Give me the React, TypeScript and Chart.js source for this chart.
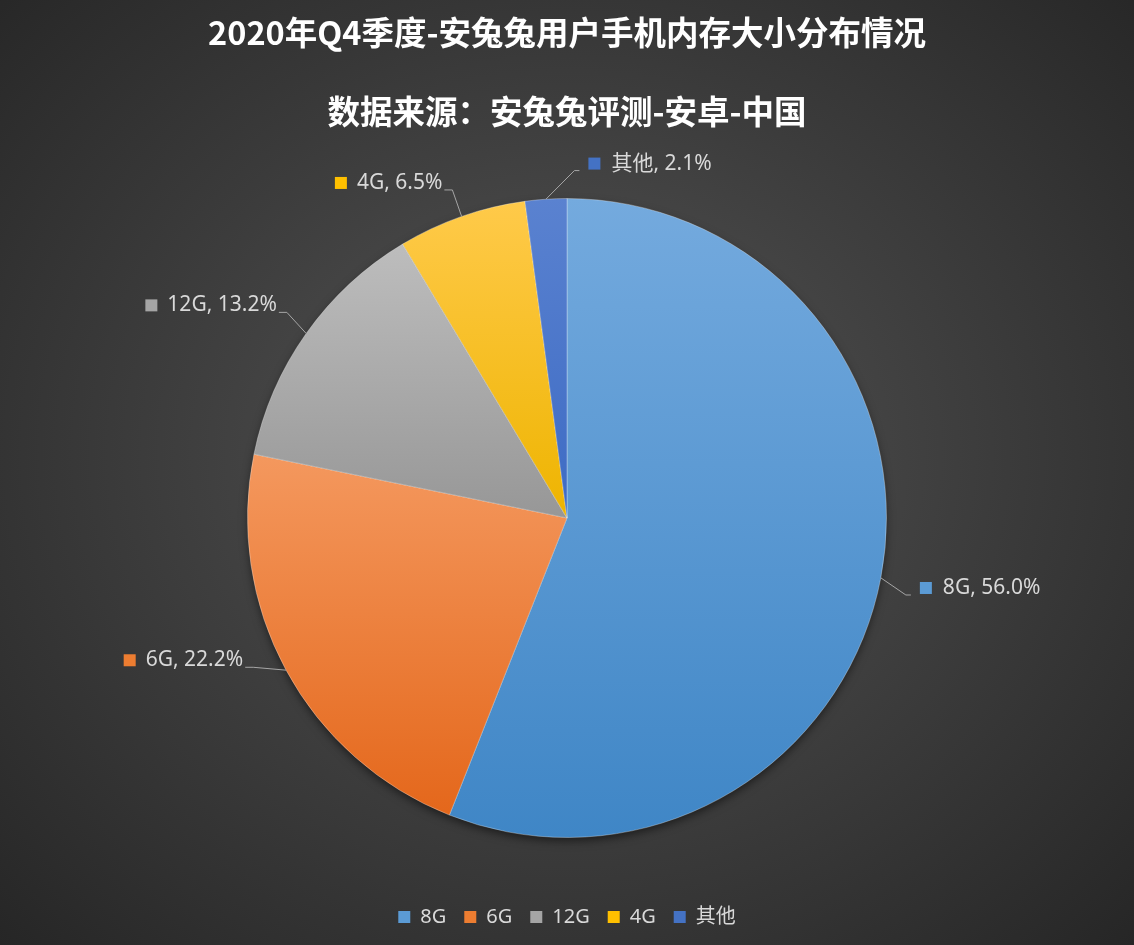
import { useEffect, useRef } from 'react';
import Chart from 'chart.js/auto';

const titleText = '2020年Q4季度-安兔兔用户手机内存大小分布情况';
const subtitleText = '数据来源：安兔兔评测-安卓-中国';

const memoryLabels = ['8G', '6G', '12G', '4G', '其他'];
const memoryShares = [56.0, 22.2, 13.2, 6.5, 2.1];

// Office palette, plus a lighter top / darker bottom for the vertical gradient
const baseColors = ['#5b9bd5', '#ed7d31', '#a5a5a5', '#ffc000', '#4472c4'];
const topColors = ['#74aade', '#f4985e', '#bdbdbd', '#ffca4a', '#5a82d0'];
const bottomColors = ['#3f86c6', '#e4671b', '#979797', '#eeb400', '#3d6bc4'];

const labelFont = '21px "Noto Sans", "Noto Sans CJK SC", sans-serif';

function sliceGradient(c: any) {
  const chart = c.chart;
  const area = chart.chartArea;
  const i = c.dataIndex;
  if (!area || i === undefined) return baseColors[i ?? 0];
  const cx = (area.left + area.right) / 2;
  const cy = (area.top + area.bottom) / 2;
  const r = Math.min(area.right - area.left, area.bottom - area.top) / 2;
  const total = memoryShares.reduce((a, b) => a + b, 0);
  let before = 0;
  for (let k = 0; k < i; k++) before += memoryShares[k];
  const a0 = -Math.PI / 2 + (before / total) * Math.PI * 2;
  const a1 = a0 + (memoryShares[i] / total) * Math.PI * 2;
  let yMin = cy;
  let yMax = cy;
  for (let s = 0; s <= 60; s++) {
    const y = cy + Math.sin(a0 + ((a1 - a0) * s) / 60) * r;
    yMin = Math.min(yMin, y);
    yMax = Math.max(yMax, y);
  }
  const g = chart.ctx.createLinearGradient(0, yMin, 0, yMax);
  g.addColorStop(0, topColors[i]);
  g.addColorStop(1, bottomColors[i]);
  return g;
}

// soft drop shadow under the pie
const pieShadow = {
  id: 'pieShadow',
  beforeDatasetsDraw(chart: any) {
    const arc = chart.getDatasetMeta(0).data[0];
    if (!arc) return;
    const { x, y, outerRadius } = arc.getProps(['x', 'y', 'outerRadius'], true);
    const ctx = chart.ctx;
    ctx.save();
    ctx.shadowColor = 'rgba(0, 0, 0, 0.55)';
    ctx.shadowBlur = 10;
    ctx.shadowOffsetY = 4;
    ctx.beginPath();
    ctx.arc(x, y, outerRadius - 1, 0, Math.PI * 2);
    ctx.fillStyle = '#3a3a3a';
    ctx.fill();
    ctx.restore();
  },
};

// Excel-style outside labels with leader lines and a colour key
const outsideLabels = {
  id: 'outsideLabels',
  afterDatasetsDraw(chart: any, _args: any, opts: any) {
    const ctx = chart.ctx;
    const meta = chart.getDatasetMeta(0);
    const values = chart.data.datasets[0].data as number[];
    ctx.save();
    ctx.font = labelFont;
    ctx.textBaseline = 'middle';
    meta.data.forEach((arc: any, i: number) => {
      const { x, y, startAngle, endAngle, outerRadius } = arc.getProps(
        ['x', 'y', 'startAngle', 'endAngle', 'outerRadius'],
        true
      );
      const mid = (startAngle + endAngle) / 2;
      const px = x + Math.cos(mid) * outerRadius;
      const py = y + Math.sin(mid) * outerRadius;
      const la = mid + ((opts.nudge?.[i] ?? 0) * Math.PI) / 180;
      const ex = x + Math.cos(la) * (outerRadius + opts.distance);
      const ey = y + Math.sin(la) * (outerRadius + opts.distance);
      const right = Math.cos(la) >= 0;
      const text = `${chart.data.labels[i]}, ${values[i].toFixed(1)}%`;
      const tw = ctx.measureText(text).width;
      const ty = ey - 7;

      ctx.strokeStyle = '#a6a6a6';
      ctx.lineWidth = 1;
      ctx.beginPath();
      ctx.moveTo(px, py);
      ctx.lineTo(ex, ey);
      ctx.lineTo(ex + (right ? 5 : -8), ey);
      ctx.stroke();

      let sqX: number;
      let textX: number;
      if (right) {
        sqX = ex + 14;
        textX = sqX + 23;
      } else {
        textX = ex - 10 - tw;
        sqX = textX - 22;
      }
      ctx.fillStyle = baseColors[i];
      ctx.fillRect(sqX, ty - 6, 12, 12);
      ctx.fillStyle = '#d9d9d9';
      ctx.textAlign = 'left';
      ctx.fillText(text, textX, ty);
    });
    ctx.restore();
  },
};

export default function App() {
  const canvasRef = useRef<HTMLCanvasElement>(null);
  const chartRef = useRef<Chart | null>(null);

  useEffect(() => {
    if (!canvasRef.current) return;
    if (chartRef.current) chartRef.current.destroy();

    chartRef.current = new Chart(canvasRef.current, {
      type: 'pie',
      data: {
        labels: memoryLabels,
        datasets: [
          {
            data: memoryShares,
            backgroundColor: sliceGradient as any,
            borderColor: 'rgba(255, 255, 255, 0.3)',
            borderWidth: 1,
          },
        ],
      },
      plugins: [pieShadow, outsideLabels],
      options: {
        responsive: true,
        maintainAspectRatio: false,
        animation: false,
        layout: { padding: { top: 0, left: 0, right: 0, bottom: 8 } },
        plugins: {
          title: {
            display: true,
            text: titleText,
            color: '#ffffff',
            font: { family: '"Noto Sans CJK SC", sans-serif', size: 32.5, weight: 'bold', lineHeight: 1.2 },
            padding: { top: 13, bottom: 0 },
          },
          subtitle: {
            display: true,
            text: subtitleText,
            color: '#ffffff',
            font: { family: '"Noto Sans CJK SC", sans-serif', size: 32.5, weight: 'bold', lineHeight: 1.2 },
            padding: { top: 40, bottom: 67 },
          },
          legend: {
            position: 'bottom',
            title: {
              display: true,
              text: ' ',
              font: { size: 10, lineHeight: 1 },
              padding: { top: 41, bottom: 0 },
            },
            labels: {
              boxWidth: 12,
              boxHeight: 12,
              padding: 18,
              color: '#d9d9d9',
              font: { family: '"Noto Sans", "Noto Sans CJK SC", sans-serif', size: 20 },
              generateLabels: () =>
                memoryLabels.map((name, i) => ({
                  text: name,
                  fillStyle: baseColors[i],
                  strokeStyle: baseColors[i],
                  lineWidth: 0,
                  fontColor: '#d9d9d9',
                  hidden: false,
                  index: i,
                })),
            },
          },
          tooltip: { enabled: false },
          outsideLabels: { distance: 28, nudge: [2, 3, 1, 0, 5] },
        } as any,
      },
    });

    return () => {
      if (chartRef.current) {
        chartRef.current.destroy();
        chartRef.current = null;
      }
    };
  }, []);

  return (
    <div
      style={{
        position: 'fixed',
        left: 0,
        top: 0,
        width: 1134,
        height: 945,
        background: 'radial-gradient(ellipse farthest-corner at 50% 48%, #555555 0%, #3b3b3b 55%, #262626 100%)',
      }}
    >
      <canvas ref={canvasRef}></canvas>
    </div>
  );
}
